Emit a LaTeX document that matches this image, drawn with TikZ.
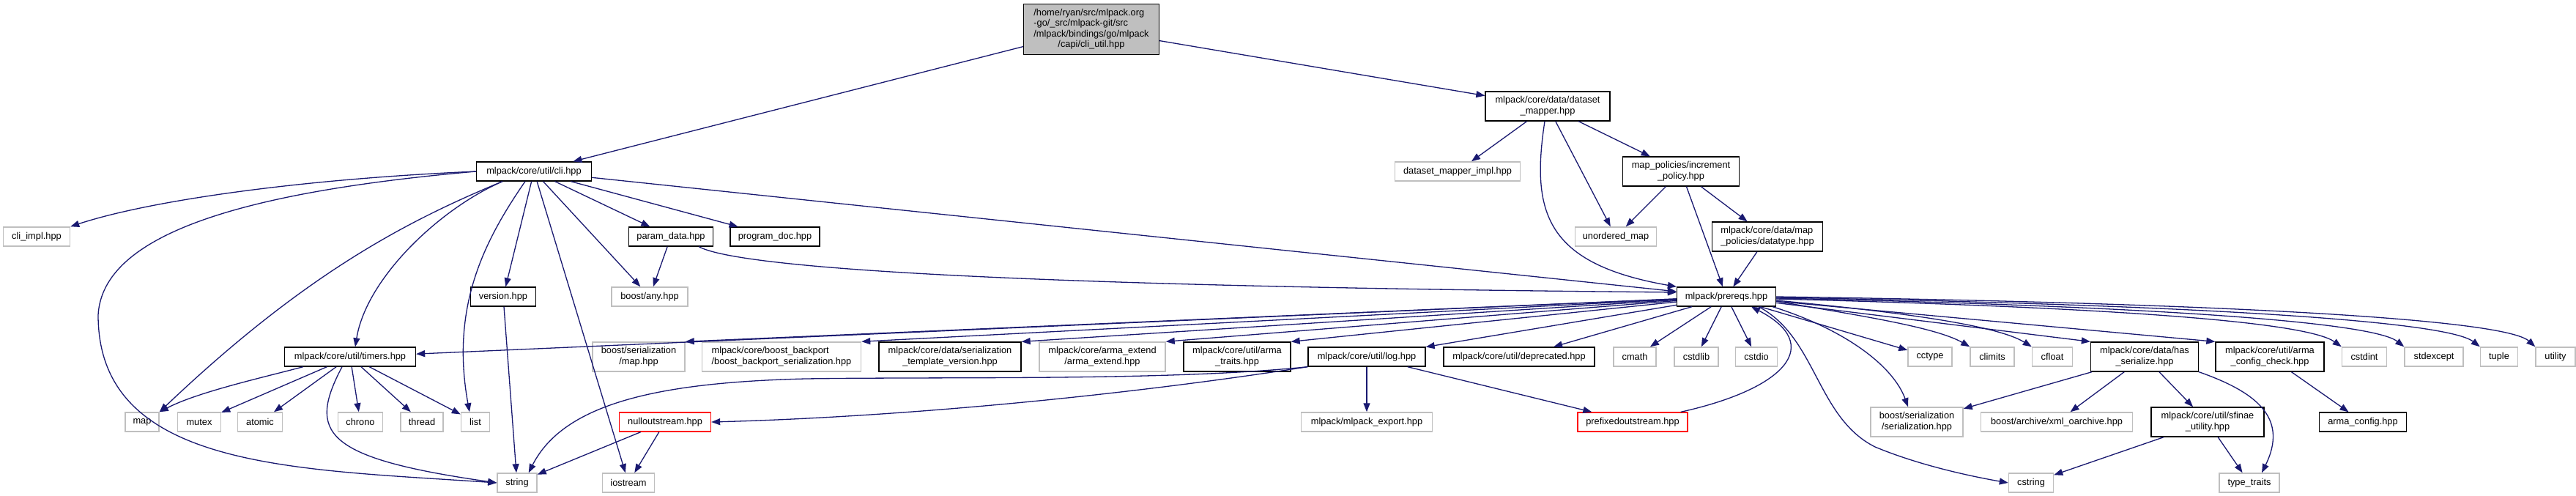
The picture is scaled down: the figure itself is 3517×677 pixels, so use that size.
\documentclass[tikz,border=0pt]{standalone}
\usepackage{fontspec}
\setmainfont{Liberation Sans}
\usetikzlibrary{arrows.meta,calc}
\definecolor{edgec}{HTML}{191970}
\definecolor{gborder}{HTML}{BFBFBF}
\newcommand{\lbl}[2]{\begin{tabular}{@{}l@{}}#1\\\multicolumn{1}{@{}c@{}}{#2}\end{tabular}}
\begin{document}
\begin{tikzpicture}[x=1pt,y=-1pt,
  dn/.style={draw=black, line width=1.3pt, minimum height=26, inner sep=1pt, align=center, font=\fontsize{12.8}{14.4}\selectfont},
  gn/.style={dn, draw=gborder, line width=1.5pt},
  rn/.style={dn, draw=red, line width=1.3pt},
  tall/.style={minimum height=40},
  ed/.style={draw=edgec, line width=1.3pt, -{Triangle[length=12pt,width=9pt]}}]
\useasboundingbox[fill=white] (0,0) rectangle (3517,677);
% nodes
\node[dn, fill=gborder, minimum width=185, minimum height=69] (root) at (1490,40) {\lbl{/home/ryan/src/mlpack.org\\-go/\_src/mlpack-git/src\\/mlpack/bindings/go/mlpack}{/capi/cli\_util.hpp}};
\node[dn, minimum width=157] (cli) at (729,234) {mlpack/core/util/cli.hpp};
\node[dn, tall, minimum width=170] (dsm) at (2113,145) {\lbl{mlpack/core/data/dataset}{\_mapper.hpp}};
\node[gn, minimum width=91] (cliimpl) at (50,323) {cli\_impl.hpp};
\node[dn, minimum width=115] (param) at (916,323) {param\_data.hpp};
\node[dn, minimum width=122] (progdoc) at (1058,323) {program\_doc.hpp};
\node[gn, minimum width=171] (dsmimpl) at (1990,234) {dataset\_mapper\_impl.hpp};
\node[dn, tall, minimum width=159] (incr) at (2295,234) {\lbl{map\_policies/increment}{\_policy.hpp}};
\node[gn, minimum width=111] (umap) at (2206,323) {unordered\_map};
\node[dn, tall, minimum width=151] (dtype) at (2413,323) {\lbl{mlpack/core/data/map}{\_policies/datatype.hpp}};
\node[dn, minimum width=89] (version) at (687,405) {version.hpp};
\node[gn, minimum width=104] (any) at (887,405) {boost/any.hpp};
\node[dn, minimum width=135] (prereqs) at (2357,405) {mlpack/prereqs.hpp};
\node[dn, minimum width=179] (timers) at (478,487) {mlpack/core/util/timers.hpp};
\node[gn, tall, minimum width=126] (bsmap) at (872,487) {\lbl{boost/serialization}{/map.hpp}};
\node[gn, tall, minimum width=217] (bback) at (1067,487) {\lbl{mlpack/core/boost\_backport}{/boost\_backport\_serialization.hpp}};
\node[dn, tall, minimum width=194] (stv) at (1297,487) {\lbl{mlpack/core/data/serialization}{\_template\_version.hpp}};
\node[gn, tall, minimum width=172] (aext) at (1505,487) {\lbl{mlpack/core/arma\_extend}{/arma\_extend.hpp}};
\node[dn, tall, minimum width=146] (atraits) at (1689,487) {\lbl{mlpack/core/util/arma}{\_traits.hpp}};
\node[dn, minimum width=160] (log) at (1866,487) {mlpack/core/util/log.hpp};
\node[dn, minimum width=206] (depr) at (2074,487) {mlpack/core/util/deprecated.hpp};
\node[gn, minimum width=58] (cmath) at (2232,487) {cmath};
\node[gn, minimum width=60] (cstdlib) at (2316,487) {cstdlib};
\node[gn, minimum width=57] (cstdio) at (2398,487) {cstdio};
\node[gn, minimum width=60] (cctype) at (2635,487) {cctype};
\node[gn, minimum width=60] (climits) at (2720,487) {climits};
\node[gn, minimum width=55] (cfloat) at (2802,487) {cfloat};
\node[dn, tall, minimum width=147] (hasser) at (2928,487) {\lbl{mlpack/core/data/has}{\_serialize.hpp}};
\node[dn, tall, minimum width=148] (acc) at (3099,487) {\lbl{mlpack/core/util/arma}{\_config\_check.hpp}};
\node[gn, minimum width=61] (cstdint) at (3228,487) {cstdint};
\node[gn, minimum width=80] (stdexcept) at (3323,487) {stdexcept};
\node[gn, minimum width=51] (tuple) at (3412,487) {tuple};
\node[gn, minimum width=54] (utility) at (3489,487) {utility};
\node[gn, minimum width=46] (map) at (194,576) {map};
\node[gn, minimum width=59] (mutex) at (272,576) {mutex};
\node[gn, minimum width=61] (atomic) at (355,576) {atomic};
\node[gn, minimum width=61] (chrono) at (492,576) {chrono};
\node[gn, minimum width=58] (thread) at (576,576) {thread};
\node[gn, minimum width=39] (list) at (649,576) {list};
\node[rn, minimum width=125] (nullos) at (908,576) {nulloutstream.hpp};
\node[gn, minimum width=179] (mexport) at (1866,576) {mlpack/mlpack\_export.hpp};
\node[rn, minimum width=150] (prefos) at (2229,576) {prefixedoutstream.hpp};
\node[gn, tall, minimum width=126] (bsser) at (2617,576) {\lbl{boost/serialization}{/serialization.hpp}};
\node[gn, minimum width=207] (xmlo) at (2808,576) {boost/archive/xml\_oarchive.hpp};
\node[dn, tall, minimum width=154] (sfinae) at (3014,576) {\lbl{mlpack/core/util/sfinae}{\_utility.hpp}};
\node[dn, minimum width=119] (aconf) at (3226,576) {arma\_config.hpp};
\node[gn, minimum width=54] (string) at (706,659) {string};
\node[gn, minimum width=71] (iostream) at (858,659) {iostream};
\node[gn, minimum width=61] (cstring) at (2773,659) {cstring};
\node[gn, minimum width=82] (ttraits) at (3071,659) {type\_traits};
% edges
\draw[ed] (root) -- (cli);
\draw[ed] (root) -- (dsm);
\draw[ed] (cli.west) .. controls (400,245) and (200,275) .. (cliimpl.north east);
\draw[ed] (cli.west) .. controls (330,262) and (140,320) .. (134,430) .. controls (134,640) and (400,640) .. (string.west);
\draw[ed] ($(cli.south)+(-43,0)$) .. controls (560,300) and (420,370) .. (map.north east);
\draw[ed] ($(cli.south)+(-43,0)$) .. controls (600,285) and (500,380) .. ($(timers.north)+(7,0)$);
\draw[ed] ($(cli.south)+(-12,0)$) .. controls (660,330) and (615,420) .. ($(list.north)+(-8,0)$);
\draw[ed] (cli) -- (version);
\draw[ed] (cli) -- (iostream);
\draw[ed] (cli) -- (any);
\draw[ed] (cli) -- (param);
\draw[ed] (cli) -- (progdoc);
\draw[ed] (cli) -- (prereqs);
\draw[ed] (dsm) -- (dsmimpl);
\draw[ed] ($(dsm.south)+(-4,0)$) .. controls (2090,290) and (2110,360) .. (prereqs.north west);
\draw[ed] (dsm) -- (umap);
\draw[ed] (dsm) -- (incr);
\draw[ed] (incr) -- (umap);
\draw[ed] (incr) -- (prereqs);
\draw[ed] (incr) -- (dtype);
\draw[ed] (dtype) -- (prereqs);
\draw[ed] (param) -- (any);
\draw[ed] ($(param.south east)+(-20,0)$) .. controls (1000,362) and (1300,390) .. ($(prereqs.west)+(0,-6)$);
\draw[ed] (version) -- (string);
\draw[ed] ($(timers.south west)+(26,0)$) .. controls (360,515) and (270,535) .. (map.north east);
\draw[ed] (timers) -- (mutex);
\draw[ed] (timers) -- (atomic);
\draw[ed] ($(timers.south)+(-11,0)$) .. controls (420,590) and (440,625) .. (string.west);
\draw[ed] (timers) -- (chrono);
\draw[ed] (timers) -- (thread);
\draw[ed] (timers) -- (list);
\draw[ed] (prereqs) -- (timers);
\draw[ed] (prereqs) -- (bsmap.north east);
\draw[ed] (prereqs) -- (bback.north east);
\draw[ed] (prereqs) -- (stv.north east);
\draw[ed] (prereqs) -- (aext.north east);
\draw[ed] (prereqs) -- (atraits.north east);
\draw[ed] (prereqs) -- (log);
\draw[ed] (prereqs) -- (depr);
\draw[ed] (prereqs) -- (cmath);
\draw[ed] (prereqs) -- (cstdlib);
\draw[ed] (prereqs) -- (cstdio);
\draw[ed] (prereqs) -- (cctype);
\draw[ed] ($(prereqs.east)+(0,6)$) .. controls (2520,428) and (2640,445) .. (climits.north west);
\draw[ed] ($(prereqs.east)+(0,5)$) .. controls (2550,422) and (2720,440) .. (cfloat.north west);
\draw[ed] (prereqs) -- (hasser.north west);
\draw[ed] (prereqs) -- (acc.north west);
\draw[ed] ($(prereqs.east)+(0,3)$) .. controls (2900,420) and (3150,440) .. (cstdint.north west);
\draw[ed] ($(prereqs.east)+(0,2)$) .. controls (2950,418) and (3240,440) .. (stdexcept.north west);
\draw[ed] ($(prereqs.east)+(0,1)$) .. controls (3000,416) and (3340,438) .. (tuple.north west);
\draw[ed] (prereqs.east) .. controls (3050,414) and (3420,436) .. (utility.north west);
\draw[ed] ($(prereqs.south east)+(-5,0)$) .. controls (2520,450) and (2585,500) .. ($(bsser.north)+(-12,0)$);
\draw[ed] ($(prereqs.south)+(44,0)$) .. controls (2480,460) and (2480,570) .. (2560,610) .. controls (2620,635) and (2690,650) .. (cstring.west);
\draw[ed] (log) -- (mexport);
\draw[ed] (log) -- (prefos);
\draw[ed] (log.south west) .. controls (1500,545) and (1200,570) .. (nullos.east);
\draw[ed] (log.south west) .. controls (1600,520) and (1300,514) .. (1100,517) .. controls (900,522) and (770,550) .. ($(string.north east)+(-12,0)$);
\draw[ed] (nullos) -- (string);
\draw[ed] (nullos) -- (iostream);
\draw[ed] ($(prefos.north east)+(-10,0)$) .. controls (2440,530) and (2490,470) .. ($(prereqs.south)+(34,0)$);
\draw[ed] (hasser) -- (bsser);
\draw[ed] (hasser) -- (xmlo);
\draw[ed] (hasser) -- (sfinae);
\draw[ed] (hasser.south east) .. controls (3080,535) and (3125,570) .. ($(ttraits.north)+(17,0)$);
\draw[ed] (sfinae) -- (cstring);
\draw[ed] (sfinae) -- (ttraits);
\draw[ed] (acc) -- (aconf);
\end{tikzpicture}
\end{document}
